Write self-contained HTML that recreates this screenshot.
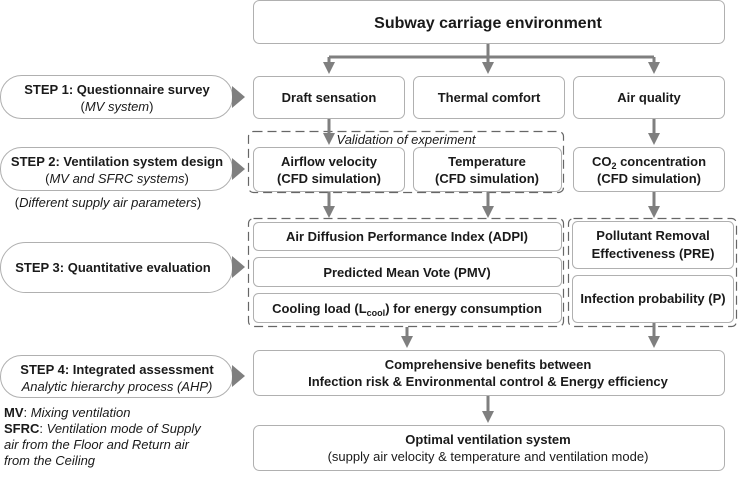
<!DOCTYPE html>
<html><head><meta charset="utf-8"><style>
body{margin:0;background:#fff}
text{font-family:"Liberation Sans",sans-serif;fill:#1a1a1a}
.b{font-weight:bold;font-size:13px}
.i{font-style:italic;font-size:13px}
.n{font-size:13px}
</style></head><body>
<svg width="738" height="472" viewBox="0 0 738 472" xmlns="http://www.w3.org/2000/svg">
<defs><marker id="a" markerWidth="4" markerHeight="4" refX="2" refY="2" orient="auto" markerUnits="strokeWidth"><path d="M0,0 L4,2 L0,4 z" fill="#7f7f7f"/></marker></defs>
<g fill="#fff" stroke="#b0b0b0" stroke-width="1">
<rect x="253.5" y="0.5" width="471" height="43" rx="6"/>
<rect x="253.5" y="76.5" width="151" height="42" rx="6"/>
<rect x="413.5" y="76.5" width="151" height="42" rx="6"/>
<rect x="573.5" y="76.5" width="151" height="42" rx="6"/>
<rect x="253.5" y="147.5" width="151" height="44" rx="6"/>
<rect x="413.5" y="147.5" width="148" height="44" rx="6"/>
<rect x="573.5" y="147.5" width="151" height="44" rx="6"/>
<rect x="253.5" y="222.5" width="308" height="28" rx="5"/>
<rect x="253.5" y="257.5" width="308" height="29" rx="5"/>
<rect x="253.5" y="293.5" width="308" height="29" rx="5"/>
<rect x="572.5" y="221.5" width="161" height="47" rx="5"/>
<rect x="572.5" y="275.5" width="161" height="47" rx="5"/>
<rect x="253.5" y="350.5" width="471" height="45" rx="6"/>
<rect x="253.5" y="425.5" width="471" height="45" rx="6"/>
<rect x="0.5" y="75.5" width="232" height="43" rx="21"/>
<rect x="0.5" y="147.5" width="232" height="43" rx="21"/>
<rect x="0.5" y="242.5" width="232" height="50" rx="25"/>
<rect x="0.5" y="355.5" width="232" height="42" rx="21"/>
</g>
<g fill="none" stroke="#666" stroke-width="1.2" stroke-dasharray="9,5">
<rect x="248.5" y="131.5" width="315" height="61" rx="5"/>
<rect x="248.5" y="218.5" width="315" height="108" rx="5"/>
<rect x="568.5" y="218.5" width="168" height="108" rx="5"/>
</g>
<g fill="#7f7f7f">
<polygon points="232,86 245,97 232,108"/>
<polygon points="232,158 245,169 232,180"/>
<polygon points="232,256 245,267 232,278"/>
<polygon points="232,365 245,376 232,387"/>
</g>
<g stroke="#7f7f7f" stroke-width="3" fill="none">
<path d="M488,44 V57 M329,57 H654"/>
<path d="M329,57 V68" marker-end="url(#a)"/>
<path d="M488,57 V68" marker-end="url(#a)"/>
<path d="M654,57 V68" marker-end="url(#a)"/>
<path d="M329,119 V139" marker-end="url(#a)"/>
<path d="M654,119 V139" marker-end="url(#a)"/>
<path d="M329,192 V212" marker-end="url(#a)"/>
<path d="M488,192 V212" marker-end="url(#a)"/>
<path d="M654,192 V212" marker-end="url(#a)"/>
<path d="M407,327 V342" marker-end="url(#a)"/>
<path d="M654,323 V342" marker-end="url(#a)"/>
<path d="M488,396 V417" marker-end="url(#a)"/>
</g>
<g text-anchor="middle">
<text x="488" y="28" class="b" style="font-size:16px">Subway carriage environment</text>
<text x="329" y="102" class="b">Draft sensation</text>
<text x="489" y="102" class="b">Thermal comfort</text>
<text x="649" y="102" class="b">Air quality</text>
<text x="406" y="144" class="i">Validation of experiment</text>
<text x="329" y="166" class="b">Airflow velocity</text>
<text x="329" y="183" class="b">(CFD simulation)</text>
<text x="487" y="166" class="b">Temperature</text>
<text x="487" y="183" class="b">(CFD simulation)</text>
<text x="649" y="166" class="b">CO<tspan font-size="9" dy="3">2</tspan><tspan dy="-3"> concentration</tspan></text>
<text x="649" y="183" class="b">(CFD simulation)</text>
<text x="407" y="241" class="b">Air Diffusion Performance Index (ADPI)</text>
<text x="407" y="277" class="b">Predicted Mean Vote (PMV)</text>
<text x="407" y="313" class="b">Cooling load (L<tspan font-size="9" dy="3">cool</tspan><tspan dy="-3">) for energy consumption</tspan></text>
<text x="653" y="240" class="b">Pollutant Removal</text>
<text x="653" y="258" class="b">Effectiveness (PRE)</text>
<text x="653" y="303" class="b">Infection probability (P)</text>
<text x="488" y="369" class="b">Comprehensive benefits between</text>
<text x="488" y="386" class="b">Infection risk &amp; Environmental control &amp; Energy efficiency</text>
<text x="488" y="444" class="b">Optimal ventilation system</text>
<text x="488" y="461" class="n">(supply air velocity &amp; temperature and ventilation mode)</text>
<text x="117" y="94" class="b">STEP 1: Questionnaire survey</text>
<text x="117" y="111" class="n">(<tspan font-style="italic">MV system</tspan>)</text>
<text x="117" y="166" class="b">STEP 2: Ventilation system design</text>
<text x="117" y="183" class="n">(<tspan font-style="italic">MV and SFRC systems</tspan>)</text>
<text x="108" y="207" class="n">(<tspan font-style="italic">Different supply air parameters</tspan>)</text>
<text x="113" y="272" class="b">STEP 3: Quantitative evaluation</text>
<text x="117" y="374" class="b">STEP 4: Integrated assessment</text>
<text x="117" y="391" class="i">Analytic hierarchy process (AHP)</text>
</g>
<text x="4" y="417" class="n"><tspan font-weight="bold">MV</tspan>: <tspan font-style="italic">Mixing ventilation</tspan></text>
<text x="4" y="433" class="n"><tspan font-weight="bold">SFRC</tspan>: <tspan font-style="italic">Ventilation mode of Supply</tspan></text>
<text x="4" y="449" class="i">air from the Floor and Return air</text>
<text x="4" y="465" class="i">from the Ceiling</text>
</svg>
</body></html>
